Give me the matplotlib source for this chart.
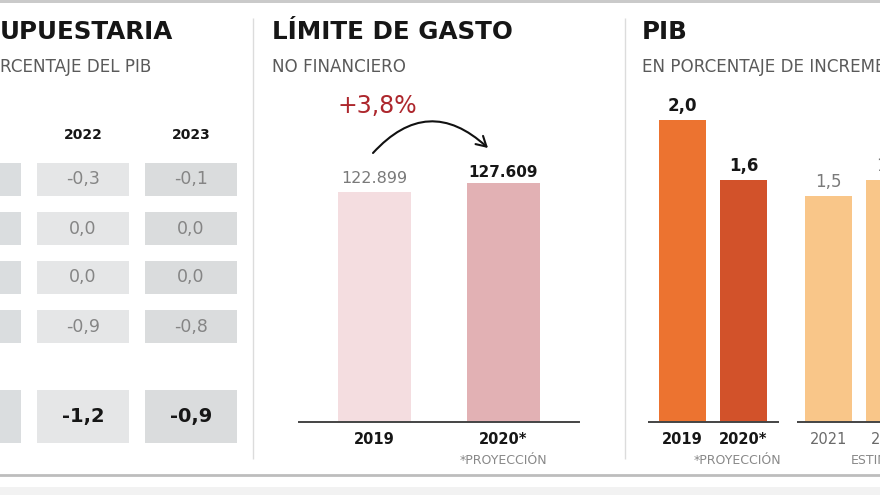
import matplotlib
matplotlib.use("Agg")
import matplotlib.pyplot as plt

W, H = 880, 495

# datos: senda presupuestaria (% del PIB), la columna 2021 queda recortada
senda_years = ["2021", "2022", "2023"]
senda_2021 = [None, None, None, None]
senda_2022 = [-0.3, 0.0, 0.0, -0.9]
senda_2023 = [-0.1, 0.0, 0.0, -0.8]
senda_total = [None, -1.2, -0.9]

# limite de gasto no financiero (millones)
gasto_years = ["2019", "2020*"]
gasto_values = [122899, 127609]

# PIB, % de incremento
pib_years = ["2019", "2020*", "2021", "2022"]
pib_values = [2.0, 1.6, 1.5, 1.6]

# estilos
TXT = "#161616"
GRAY_TXT = "#7a7a7a"
cell_colors = ["#dadddf", "#e5e6e7", "#dadcdd"]
gasto_colors = ["#f4dde0", "#e2b1b4"]
pib_colors = ["#ec7330", "#d2522a", "#f9c689", "#f9c689"]


def fmt(v, dec=1):
    return f"{v:.{dec}f}".replace(".", ",")


fig = plt.figure(figsize=(W / 100, H / 100), dpi=100)
fig.patch.set_facecolor("white")


def px_axes(x0, y0, x1, y1):
    ax = fig.add_axes([x0 / W, 1 - y1 / H, (x1 - x0) / W, (y1 - y0) / H])
    ax.axis("off")
    return ax


# capa de fondo en pixeles: marcos, titulos
deco = px_axes(0, 0, W, H)
deco.set_xlim(0, W)
deco.set_ylim(H, 0)
deco.axhspan(0, 3, color="#cacaca", lw=0)
deco.axhline(475, color="#bdbdbd", lw=2)
deco.axhspan(487, H, color="#f2f2f2", lw=0)
for x in (253, 625):
    deco.vlines(x, 18, 459, color="#dcdcdc", lw=1)

titles = [(0, "UPUESTARIA"), (272, "LÍMITE DE GASTO"), (642, "PIB")]
for x, t in titles:
    deco.text(x, 39, t, fontsize=17.7, fontweight="bold", color=TXT, va="baseline")
subtitles = [(0, "RCENTAJE DEL PIB"), (272, "NO FINANCIERO"),
             (642, "EN PORCENTAJE DE INCREMENTO")]
for x, t in subtitles:
    deco.text(x, 72, t, fontsize=12.1, color="#5a5a5a", va="baseline")

# 1. tabla senda presupuestaria
ax_t = px_axes(0, 110, 252, 455)
col_px0, col_pitch = -25, 108
row_px0, row_pitch = 179.5, 49
ax_t.set_xlim((0 - col_px0) / col_pitch, (252 - col_px0) / col_pitch)
ax_t.set_ylim((455 - row_px0) / row_pitch, (110 - row_px0) / row_pitch)

cols = list(range(len(senda_years)))
cell_w = 92 / col_pitch
row_h = 33 / row_pitch
total_h = 53 / row_pitch
total_r = (416.5 - row_px0) / row_pitch

# cabeceras (la de 2021 cae fuera del recorte)
for c, year in enumerate(senda_years):
    if senda_total[c] is None:
        continue
    ax_t.text(c, (139 - row_px0) / row_pitch, year, ha="center", va="baseline",
              fontsize=10, fontweight="bold", color=TXT)

columns = [senda_2021, senda_2022, senda_2023]
for r in range(len(senda_2022)):
    ax_t.bar(cols, row_h, bottom=r - row_h / 2, width=cell_w, color=cell_colors, lw=0)
    for c, col in enumerate(columns):
        if col[r] is not None:
            ax_t.text(c, r, fmt(col[r]), ha="center", va="center",
                      fontsize=12.5, color="#858585")

ax_t.bar(cols, total_h, bottom=total_r - total_h / 2, width=cell_w,
         color=cell_colors, lw=0)
for c, v in enumerate(senda_total):
    if v is not None:
        ax_t.text(c, total_r, fmt(v), ha="center", va="center",
                  fontsize=14, fontweight="bold", color=TXT)

# 2. limite de gasto
ax_g = px_axes(299, 102, 579, 422)
ax_g.set_xlim(-0.5875, 1.591)
ax_g.set_ylim(0, 171000)
gx = list(range(len(gasto_values)))
ax_g.bar(gx, gasto_values, width=0.568, color=gasto_colors, lw=0)
ax_g.axhline(0, color="#444444", lw=1.4, clip_on=False)
for i, v in enumerate(gasto_values):
    last = i == len(gasto_values) - 1
    ax_g.annotate(f"{v:,}".replace(",", "."), xy=(i, v), xytext=(0, 6 if last else 9),
                  textcoords="offset pixels", ha="center", va="baseline",
                  fontsize=11 if last else 11.5,
                  fontweight="bold" if last else "normal",
                  color=TXT if last else GRAY_TXT)
    ax_g.annotate(gasto_years[i], xy=(i, 0), xytext=(0, -22), textcoords="offset pixels",
                  ha="center", va="baseline", fontsize=10.5, fontweight="bold", color=TXT)
ax_g.annotate("*PROYECCIÓN", xy=(1, 0), xytext=(0, -42), textcoords="offset pixels",
              ha="center", va="baseline", fontsize=9, color="#888888")

pct = (gasto_values[1] / gasto_values[0] - 1) * 100
deco.text(377.5, 113, f"+{fmt(pct)}%", ha="center", va="baseline",
          fontsize=17, color="#ad272d")
deco.annotate("", xy=(488, 148), xytext=(373, 153),
              arrowprops=dict(arrowstyle="->,head_length=0.7,head_width=0.4",
                              connectionstyle="arc3,rad=-0.5", color="#111111",
                              lw=1.5, shrinkA=0, shrinkB=0))

# 3. PIB
ax_p = px_axes(648, 102, W, 422)
ax_p.set_xlim(-0.566, 3.238)
ax_p.set_ylim(0, 2.12)
group_gap = 0.393
px = [i + (group_gap if i >= 2 else 0) for i in range(len(pib_values))]
ax_p.bar(px, pib_values, width=0.77, color=pib_colors, lw=0)
ax_p.hlines([0, 0], [-0.566, 1.877], [1.582, 3.4], color="#444444", lw=1.4, clip_on=False)
for i, v in enumerate(pib_values):
    real = i < 2
    ax_p.annotate(fmt(v), xy=(px[i], v), xytext=(0, 9), textcoords="offset pixels",
                  ha="center", va="baseline", fontsize=12, annotation_clip=False,
                  fontweight="bold" if real else "normal",
                  color=TXT if real else GRAY_TXT)
    ax_p.annotate(pib_years[i], xy=(px[i], 0), xytext=(0, -22), textcoords="offset pixels",
                  ha="center", va="baseline", fontsize=10.5, annotation_clip=False,
                  fontweight="bold" if real else "normal",
                  color=TXT if real else "#6a6a6a")
ax_p.annotate("*PROYECCIÓN", xy=(px[1], 0), xytext=(-6, -42), textcoords="offset pixels",
              ha="center", va="baseline", fontsize=9, color="#888888")
ax_p.annotate("ESTIMACIÓN", xy=(px[3], 0), xytext=(0, -42), textcoords="offset pixels",
              ha="center", va="baseline", fontsize=9, color="#888888",
              annotation_clip=False)

fig.savefig("out.png", dpi=100)
